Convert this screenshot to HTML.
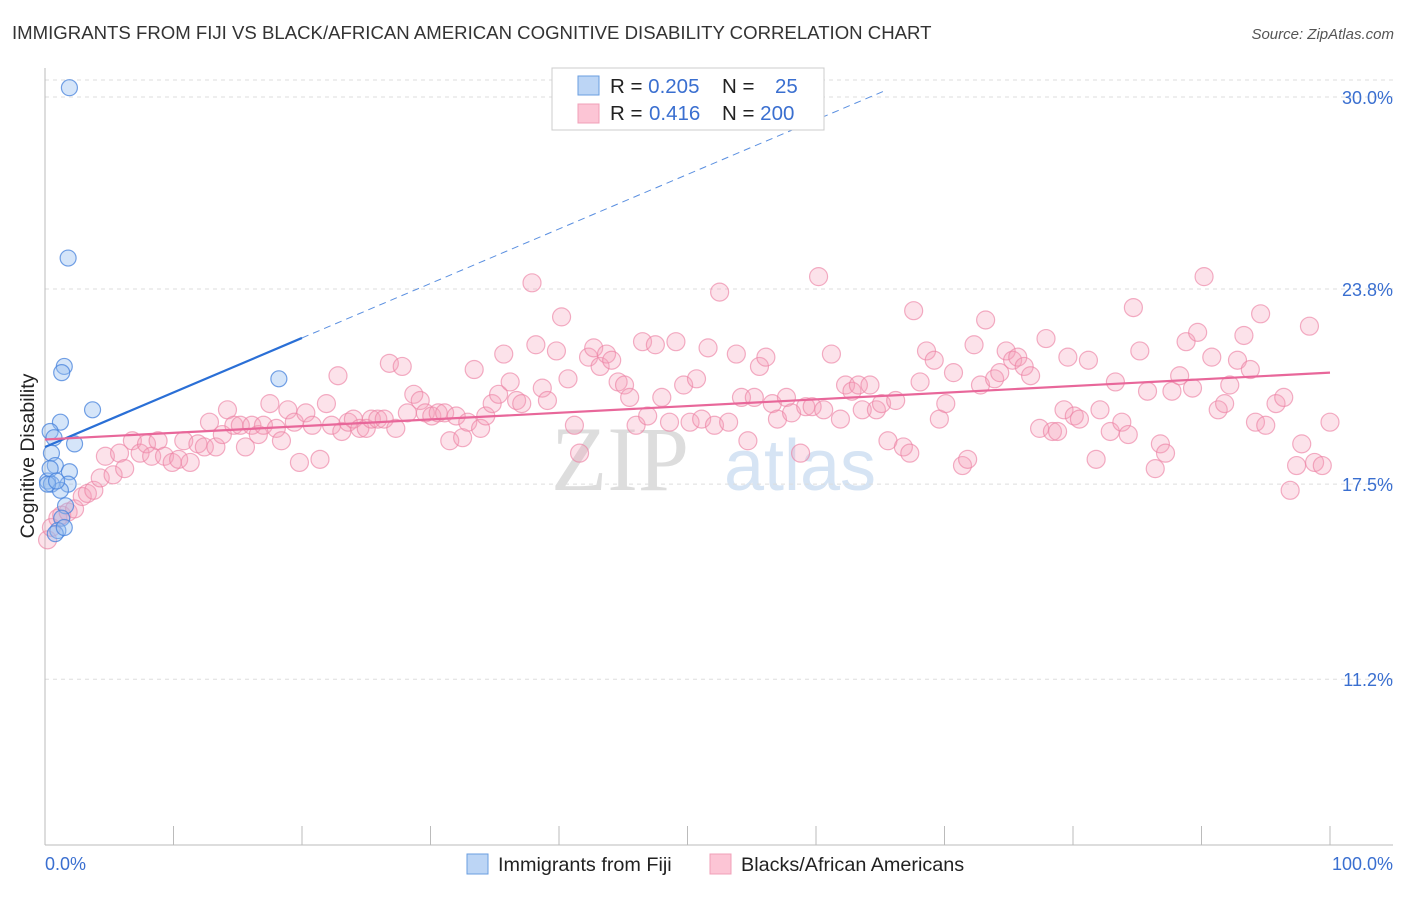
<!DOCTYPE html>
<html><head><meta charset="utf-8"><style>
body{margin:0;background:#fff;font-family:"Liberation Sans",sans-serif;}
svg text{font-family:"Liberation Sans",sans-serif;}
</style></head><body>
<svg id="chart" width="1406" height="892" xmlns="http://www.w3.org/2000/svg">
<text x="12" y="39" font-size="18.6" fill="#333">IMMIGRANTS FROM FIJI VS BLACK/AFRICAN AMERICAN COGNITIVE DISABILITY CORRELATION CHART</text>
<text x="1394" y="39" font-size="15" fill="#555" text-anchor="end" font-style="italic">Source: ZipAtlas.com</text>
<text x="620" y="490" font-size="92" fill="#ddd" text-anchor="middle" style="font-family:'Liberation Serif',serif">ZIP</text>
<text x="800" y="490" font-size="72" fill="#d6e4f4" text-anchor="middle">atlas</text>
<g id="grid"></g>
<g id="axes"></g>
<g id="marks"></g>
<g id="trends"></g>
<text transform="translate(34,456) rotate(-90)" font-size="19.5" fill="#222" text-anchor="middle">Cognitive Disability</text>
<g>
<rect x="552" y="68" width="272" height="62" fill="#fff" stroke="#ccc"/>
<rect x="578" y="76" width="21" height="19" fill="#bcd5f5" stroke="#6a9ee0"/>
<rect x="578" y="104" width="21" height="19" fill="#fcc5d5" stroke="#f0a0b8"/>
<text x="610" y="93" font-size="20.5" fill="#222">R = <tspan fill="#3a6fd0">0.205</tspan></text>
<text x="722" y="93" font-size="20.5" fill="#222">N = <tspan x="775" fill="#3a6fd0">25</tspan></text>
<text x="610" y="120" font-size="20.5" fill="#222">R = <tspan x="649" fill="#3a6fd0">0.416</tspan></text>
<text x="722" y="120" font-size="20.5" fill="#222">N = <tspan fill="#3a6fd0">200</tspan></text>
</g>
<g>
<rect x="467" y="854" width="21" height="20" fill="#bcd5f5" stroke="#6a9ee0"/>
<text x="498" y="871" font-size="19.8" fill="#222">Immigrants from Fiji</text>
<rect x="710" y="854" width="21" height="20" fill="#fcc5d5" stroke="#f0a0b8"/>
<text x="741" y="871" font-size="19.8" fill="#222">Blacks/African Americans</text>
</g>
</svg>
<script>
const yTicks=[30.0,23.8,17.5,11.2];
const yTickLabels=["30.0%","23.8%","17.5%","11.2%"];
const xTickVals=[0,10,20,30,40,50,60,70,80,90,100];
const xEndLabels=["0.0%","100.0%"];
const fijiX=[1.9,1.8,1.5,1.3,18.2,3.7,1.2,0.4,0.7,2.3,0.5,0.8,1.9,0.2,0.5,1.8,1.2,0.2,1.6,1.3,1.0,0.8,1.5,0.4,0.9];
const fijiY=[30.3,24.8,21.3,21.1,20.9,19.9,19.5,19.2,19.0,18.8,18.5,18.1,17.9,17.6,17.5,17.5,17.3,17.5,16.8,16.4,16.0,15.9,16.1,18.0,17.6];
const blackX=[0.2,0.5,1.0,1.3,1.8,2.3,2.9,3.3,3.8,4.3,4.7,5.3,5.8,6.2,6.8,7.4,7.9,8.3,8.8,9.3,9.9,10.4,10.8,11.3,11.9,12.4,12.8,13.3,13.8,14.2,14.7,15.2,15.6,16.1,16.6,17.0,17.5,18.0,18.4,18.9,19.4,19.8,20.3,20.8,21.4,21.9,22.3,22.8,23.1,23.6,24.0,24.5,25.0,25.4,25.9,26.4,26.8,27.3,27.8,28.2,28.7,29.2,29.6,30.1,30.6,31.1,31.5,32.0,32.5,32.9,33.4,33.9,34.3,34.8,35.3,35.7,36.2,36.7,37.1,37.9,38.2,38.7,39.1,39.8,40.2,40.7,41.2,41.6,42.3,42.7,43.2,43.7,44.1,44.6,45.1,45.5,46.0,46.5,46.9,47.5,48.0,48.6,49.1,49.7,50.2,50.7,51.1,51.6,52.1,52.5,53.2,53.8,54.2,54.7,55.2,55.6,56.1,56.6,57.0,57.7,58.1,58.8,59.2,59.7,60.2,60.6,61.2,61.9,62.3,62.8,63.3,63.6,64.2,64.7,65.1,65.6,66.2,66.8,67.3,67.6,68.1,68.6,69.2,69.6,70.1,70.7,71.4,71.8,72.3,72.8,73.2,73.9,74.3,74.8,75.3,75.7,76.2,76.7,77.4,77.9,78.4,78.8,79.3,79.6,80.1,80.5,81.2,81.8,82.1,82.9,83.3,83.8,84.3,84.7,85.2,85.8,86.4,86.8,87.2,87.7,88.3,88.8,89.3,89.7,90.2,90.8,91.3,91.8,92.2,92.8,93.3,93.8,94.2,94.6,95.0,95.8,96.4,96.9,97.4,97.8,98.4,98.8,99.4,100.0];
const blackY=[15.7,16.1,16.4,16.5,16.6,16.7,17.1,17.2,17.3,17.7,18.4,17.8,18.5,18.0,18.9,18.5,18.8,18.4,18.9,18.4,18.2,18.3,18.9,18.2,18.8,18.7,19.5,18.7,19.1,19.9,19.4,19.4,18.7,19.4,19.1,19.4,20.1,19.3,18.9,19.9,19.5,18.2,19.8,19.4,18.3,20.1,19.4,21.0,19.2,19.5,19.6,19.3,19.3,19.6,19.6,19.6,21.4,19.3,21.3,19.8,20.4,20.2,19.8,19.7,19.8,19.8,18.9,19.7,19.0,19.5,21.2,19.3,19.7,20.1,20.4,21.7,20.8,20.2,20.1,24.0,22.0,20.6,20.2,21.8,22.9,20.9,19.4,18.5,21.6,21.9,21.3,21.7,21.5,20.8,20.7,20.3,19.4,22.1,19.7,22.0,20.3,19.5,22.1,20.7,19.5,20.9,19.6,21.9,19.4,23.7,19.5,21.7,20.3,18.9,20.3,21.3,21.6,20.1,19.6,20.3,19.8,18.5,20.0,20.0,24.2,19.9,21.7,19.6,20.7,20.5,20.7,19.9,20.7,19.9,20.1,18.9,20.2,18.7,18.5,23.1,20.8,21.8,21.5,19.6,20.1,21.1,18.1,18.3,22.0,20.7,22.8,20.9,21.1,21.8,21.5,21.6,21.3,21.0,19.3,22.2,19.2,19.2,19.9,21.6,19.7,19.6,21.5,18.3,19.9,19.2,20.8,19.5,19.1,23.2,21.8,20.5,18.0,18.8,18.5,20.5,21.0,22.1,20.6,22.4,24.2,21.6,19.9,20.1,20.7,21.5,22.3,21.2,19.5,23.0,19.4,20.1,20.3,17.3,18.1,18.8,22.6,18.2,18.1,19.5];
const fijiTrend=[18.7,0.176];
const blackTrend=[18.94,21.1];
const NS="http://www.w3.org/2000/svg";
const X0=45,X1=1330,YB=845;
function sx(v){return X0+(X1-X0)*v/100;}
function sy(v){return 97+(30-v)*30.97;}
function mk(tag,attrs,parent){const e=document.createElementNS(NS,tag);for(const k in attrs)e.setAttribute(k,attrs[k]);document.getElementById(parent).appendChild(e);return e;}
yTicks.forEach((t,i)=>{
 const g=mk('line',{x1:X0,x2:1393,y1:sy(t),y2:sy(t),stroke:'#ddd','stroke-dasharray':'4,4'},'grid');
 
 
 const tx=mk('text',{x:1393,y:sy(t)+7,'font-size':18,fill:'#3a6fd0','text-anchor':'end'},'axes');
 tx.textContent=yTickLabels[i];
 
 
});
const topg=mk('line',{x1:X0,x2:1393,y1:80,y2:80,stroke:'#ddd','stroke-dasharray':'4,4'},'grid');


const ya=mk('line',{x1:X0,x2:X0,y1:68,y2:YB,stroke:'#bbb'},'axes');


const xa=mk('line',{x1:X0,x2:1393,y1:YB,y2:YB,stroke:'#bbb'},'axes');


xTickVals.forEach(v=>{
 const t=mk('line',{x1:sx(v),x2:sx(v),y1:826,y2:YB,stroke:'#bbb'},'axes');
 
 
});
const l0=mk('text',{x:X0,y:870,'font-size':18,fill:'#3a6fd0'},'axes');l0.textContent=xEndLabels[0];


const l1=mk('text',{x:1393,y:870,'font-size':18,fill:'#3a6fd0','text-anchor':'end'},'axes');l1.textContent=xEndLabels[1];


blackX.forEach((x,i)=>{
 const c=mk('circle',{cx:sx(x),cy:sy(blackY[i]),r:9,fill:'rgba(244,160,185,0.3)',stroke:'rgba(236,130,165,0.65)','stroke-width':1.2},'marks');
 
 
});
fijiX.forEach((x,i)=>{
 const c=mk('circle',{cx:sx(x),cy:sy(fijiY[i]),r:8,fill:'rgba(150,190,240,0.4)',stroke:'rgba(70,130,220,0.75)','stroke-width':1.2},'marks');
 
 
});
const fy=x=>fijiTrend[0]+fijiTrend[1]*x;
const fs=mk('line',{x1:sx(0),y1:sy(fy(0)),x2:sx(20),y2:sy(fy(20)),stroke:'#2a6fd6','stroke-width':2.2},'trends');


const fd=mk('line',{x1:sx(20),y1:sy(fy(20)),x2:sx(65.3),y2:sy(fy(65.3)),stroke:'#5a8fe0','stroke-width':1,'stroke-dasharray':'7,5'},'trends');


const bt=mk('line',{x1:sx(0),y1:sy(blackTrend[0]),x2:sx(100),y2:sy(blackTrend[1]),stroke:'#e8679a','stroke-width':2.2},'trends');


</script>
</body></html>
